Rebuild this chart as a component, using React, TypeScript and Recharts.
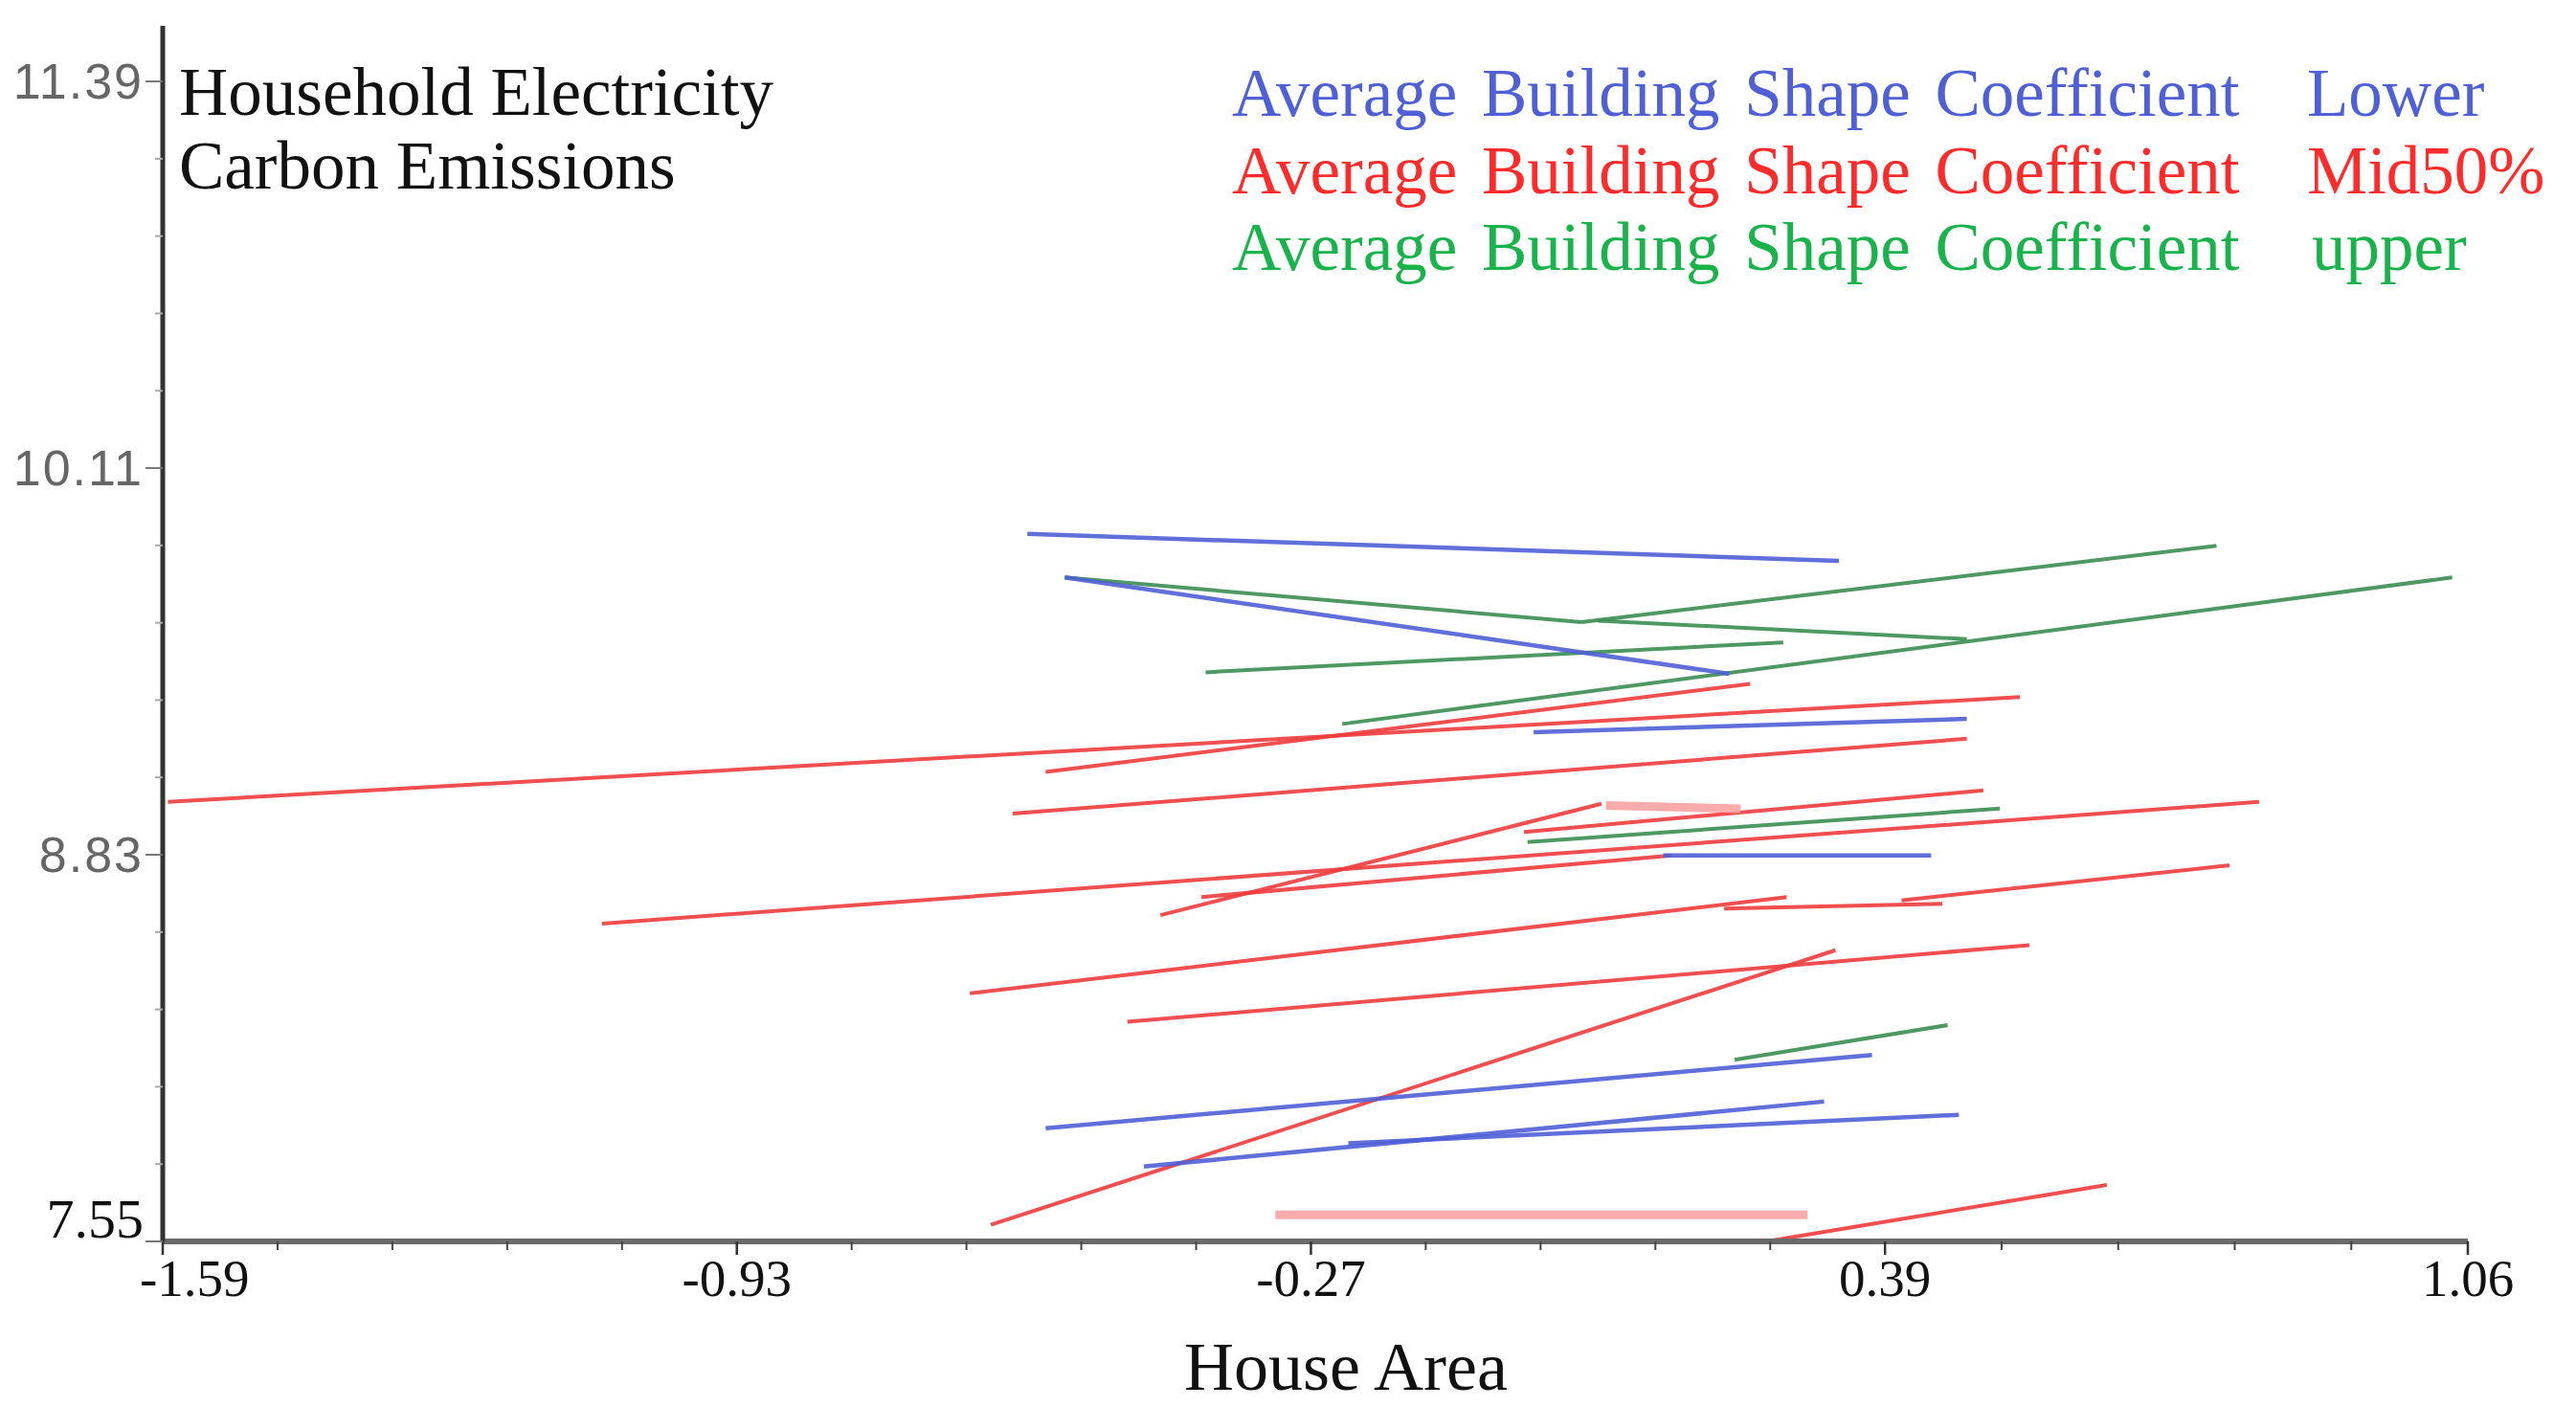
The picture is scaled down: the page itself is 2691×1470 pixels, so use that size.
import React from 'react'
import { LineChart, Line, XAxis, YAxis } from 'recharts'

// house area (x) / carbon emissions (y) for each fitted segment
const lowerStartX = [-0.596, -0.553, -0.014, 0.135, -0.575, -0.462, -0.227]
const lowerStartY = [9.892, 9.748, 9.236, 8.828, 7.925, 7.798, 7.875]
const lowerEndX = [0.337, 0.211, 0.484, 0.443, 0.375, 0.32, 0.475]
const lowerEndY = [9.803, 9.429, 9.28, 8.828, 8.167, 8.013, 7.969]

const midStartX = [-1.584, -0.575, -0.613, -0.443, -1.085, -0.396, -0.025, -0.662, 0.205, 0.409, -0.481, -0.638, -0.311, 0.254, 0.069]
const midStartY = [9.005, 9.104, 8.966, 8.63, 8.602, 8.69, 8.905, 8.371, 8.652, 8.679, 8.277, 7.605, 7.638, 7.55, 8.993]
const midEndX = [0.545, 0.235, 0.484, 0.064, 0.82, 0.145, 0.503, 0.277, 0.456, 0.786, 0.556, 0.333, 0.301, 0.645, 0.224]
const midEndY = [9.352, 9.396, 9.214, 8.999, 9.005, 8.828, 9.043, 8.69, 8.668, 8.795, 8.531, 8.514, 7.638, 7.737, 8.982]

const upperStartX = [-0.553, 0.041, 0.06, -0.391, -0.234, -0.021, 0.217]
const upperStartY = [9.748, 9.6, 9.605, 9.434, 9.263, 8.872, 8.151]
const upperEndX = [0.041, 0.771, 0.484, 0.273, 1.042, 0.522, 0.462]
const upperEndY = [9.6, 9.853, 9.544, 9.533, 9.748, 8.983, 8.266]

const xMajorTicks = [-1.59, -0.93, -0.27, 0.39, 1.06]
const xTickLabels = ['-1.59', '-0.93', '-0.27', '0.39', '1.06']
const yMajorTicks = [7.55, 8.83, 10.11, 11.39]
const yTickLabels = ['7.55', '8.83', '10.11', '11.39']

const legendPrefix = 'Average Building Shape Coefficient'
const legendGroups = ['Lower', 'Mid50%', 'upper']
const titleLines = ['Household Electricity', 'Carbon Emissions']

// segments drawn as thick pale bands
const midPale = [12, 14]

const BLUE = '#4f5fd6'
const RED = '#f03c3c'
const GREEN = '#3b8d52'
const PINK = '#f9a3a3'
const SERIF = '"Liberation Serif", "Times New Roman", serif'

const toSegments = (sx: number[], sy: number[], ex: number[], ey: number[]) =>
  sx.map((x, i) => [
    { x, y: sy[i] },
    { x: ex[i], y: ey[i] },
  ])

const withMinors = (majors: number[]) => {
  const out: number[] = []
  for (let i = 0; i < majors.length - 1; i++) {
    for (let k = 0; k < 5; k++) out.push(+(majors[i] + ((majors[i + 1] - majors[i]) * k) / 5).toFixed(4))
  }
  out.push(majors[majors.length - 1])
  return out
}

const majorIndex = (majors: number[], v: number) => majors.findIndex((t) => Math.abs(t - v) < 1e-4)

const XTick = (props: any) => {
  const { x, y, payload } = props
  const idx = majorIndex(xMajorTicks, payload.value)
  if (idx < 0) return <line x1={x} x2={x} y1={y} y2={y + 9} stroke="#444" strokeWidth={2} />
  return (
    <g>
      <line x1={x} x2={x} y1={y} y2={y + 14} stroke="#333" strokeWidth={2.5} />
      <text
        x={idx === 0 ? x - 24 : x}
        y={y + 57}
        textAnchor={idx === 0 ? 'start' : 'middle'}
        fontFamily={SERIF}
        fontSize={55}
        fill="#111"
      >
        {xTickLabels[idx]}
      </text>
    </g>
  )
}

const YTick = (props: any) => {
  const { x, y, payload } = props
  const idx = majorIndex(yMajorTicks, payload.value)
  if (idx < 0) return <line x1={x - 8} x2={x} y1={y} y2={y} stroke="#aaa" strokeWidth={2} />
  const bottom = idx === 0
  return (
    <g>
      <line x1={x - 18} x2={x} y1={y} y2={y} stroke="#777" strokeWidth={2} />
      <text
        x={x - 20}
        y={bottom ? y - 4 : y + 18}
        textAnchor="end"
        fontFamily={bottom ? SERIF : '"Liberation Sans", Arial, sans-serif'}
        fontSize={bottom ? 58 : 52}
        letterSpacing={bottom ? 0 : 2}
        fill={bottom ? '#111' : '#666'}
      >
        {yTickLabels[idx]}
      </text>
    </g>
  )
}

const Overlay = () => (
  <svg
    width={2691}
    height={1470}
    style={{ position: 'absolute', left: 0, top: 0, pointerEvents: 'none' }}
  >
    <g fontFamily={SERIF} fill="#111" fontSize={71}>
      <text x={187} y={120}>{titleLines[0]}</text>
      <text x={187} y={197}>{titleLines[1]}</text>
    </g>
    <g fontFamily={SERIF} fontSize={71} wordSpacing={8}>
      {[BLUE, '#ff2b2b', '#18b34a'].map((c, i) => (
        <g key={i} fill={c}>
          <text x={1287} y={121 + i * 80.5}>{legendPrefix}</text>
          <text x={i === 2 ? 2415 : 2410} y={121 + i * 80.5}>{legendGroups[i]}</text>
        </g>
      ))}
    </g>
    <text x={1406} y={1452} textAnchor="middle" fontFamily={SERIF} fontSize={72} fill="#111">
      House Area
    </text>
  </svg>
)

export default function App() {
  const lower = toSegments(lowerStartX, lowerStartY, lowerEndX, lowerEndY)
  const mid = toSegments(midStartX, midStartY, midEndX, midEndY)
  const upper = toSegments(upperStartX, upperStartY, upperEndX, upperEndY)

  return (
    <div style={{ position: 'absolute', left: 0, top: 0, width: 2691, height: 1470, background: '#fff' }}>
      <LineChart width={2691} height={1470} margin={{ top: 27, right: 113, bottom: 113, left: 110 }}>
        <XAxis
          type="number"
          dataKey="x"
          domain={[-1.59, 1.06]}
          ticks={withMinors(xMajorTicks)}
          interval={0}
          height={60}
          tickSize={0}
          tickMargin={0}
          tickLine={false}
          tick={<XTick />}
          axisLine={{ stroke: '#6a6a6a', strokeWidth: 6 }}
          allowDataOverflow
        />
        <YAxis
          type="number"
          dataKey="y"
          domain={[7.55, 11.574]}
          ticks={withMinors(yMajorTicks)}
          interval={0}
          width={60}
          tickSize={0}
          tickMargin={0}
          tickLine={false}
          tick={<YTick />}
          axisLine={{ stroke: '#333', strokeWidth: 5 }}
          allowDataOverflow
        />
        {mid.map((seg, i) => (
          <Line
            key={'m' + i}
            data={seg}
            dataKey="y"
            type="linear"
            stroke={midPale.includes(i) ? PINK : RED}
            strokeWidth={midPale.includes(i) ? 9 : 4}
            strokeOpacity={0.9}
            dot={false}
            activeDot={false}
            isAnimationActive={false}
          />
        ))}
        {upper.map((seg, i) => (
          <Line
            key={'u' + i}
            data={seg}
            dataKey="y"
            type="linear"
            stroke={GREEN}
            strokeWidth={4}
            strokeOpacity={0.9}
            dot={false}
            activeDot={false}
            isAnimationActive={false}
          />
        ))}
        {lower.map((seg, i) => (
          <Line
            key={'l' + i}
            data={seg}
            dataKey="y"
            type="linear"
            stroke={BLUE}
            strokeWidth={4.5}
            strokeOpacity={0.9}
            dot={false}
            activeDot={false}
            isAnimationActive={false}
          />
        ))}
      </LineChart>
      <Overlay />
    </div>
  )
}
